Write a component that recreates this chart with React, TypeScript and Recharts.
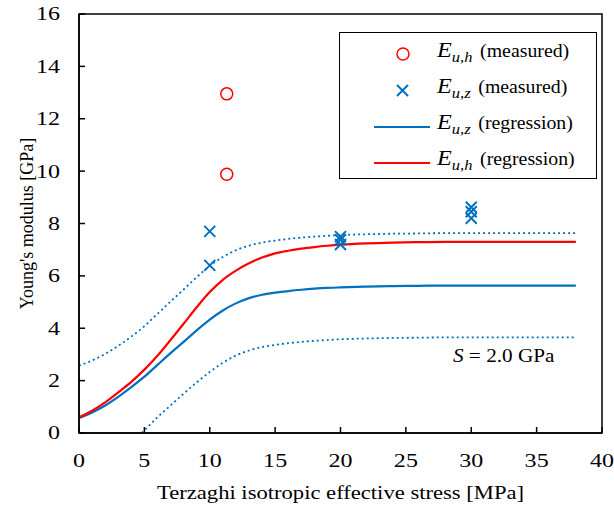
import {
  ComposedChart,
  Label,
  Line,
  ReferenceArea,
  ReferenceDot,
  Scatter,
  XAxis,
  YAxis
} from "recharts";

const stressX = [0, 1, 2, 3, 4, 5, 6, 7, 8, 9, 10, 11, 12, 13, 14, 15, 16, 17, 18, 19, 20, 22, 24, 26, 28, 30, 32, 34, 36, 38];
const euzRegression = [0.57, 0.78, 1.05, 1.38, 1.75, 2.15, 2.6, 3.05, 3.48, 3.92, 4.33, 4.68, 4.95, 5.15, 5.28, 5.36, 5.42, 5.47, 5.51, 5.54, 5.56, 5.59, 5.61, 5.62, 5.63, 5.63, 5.63, 5.63, 5.63, 5.63];
const euhRegression = [0.6, 0.85, 1.17, 1.55, 1.95, 2.42, 2.95, 3.55, 4.17, 4.8, 5.38, 5.85, 6.2, 6.48, 6.7, 6.86, 6.96, 7.04, 7.1, 7.15, 7.19, 7.24, 7.27, 7.29, 7.3, 7.3, 7.3, 7.3, 7.3, 7.3];
const upperBand = [2.57, 2.77, 3.02, 3.33, 3.68, 4.08, 4.55, 5.02, 5.48, 5.95, 6.38, 6.72, 6.98, 7.15, 7.27, 7.35, 7.41, 7.46, 7.5, 7.53, 7.56, 7.59, 7.61, 7.62, 7.63, 7.63, 7.63, 7.63, 7.63, 7.63];

const lowerX = [4.8, 5, 6, 7, 8, 9, 10, 11, 12, 13, 14, 15, 16, 17, 18, 19, 20, 22, 24, 26, 28, 30, 32, 34, 36, 38];
const lowerBand = [0, 0.1, 0.6, 1.05, 1.5, 1.93, 2.33, 2.68, 2.96, 3.15, 3.28, 3.36, 3.43, 3.48, 3.52, 3.55, 3.58, 3.61, 3.63, 3.64, 3.65, 3.65, 3.65, 3.65, 3.65, 3.65];

const euhMeasuredX = [11.3, 11.3];
const euhMeasured = [12.95, 9.88];
const euzMeasuredX = [10, 10, 20, 20, 20, 30, 30, 30];
const euzMeasured = [7.7, 6.4, 7.5, 7.38, 7.2, 8.62, 8.45, 8.2];

const xTicks = [0, 5, 10, 15, 20, 25, 30, 35, 40];
const yTicks = [0, 2, 4, 6, 8, 10, 12, 14, 16];

const BLUE = "#0070C0";
const RED = "#FF0000";
const FONT = "'Liberation Serif', 'Times New Roman', serif";
// the source figure is stretched sideways, so text is widened a bit
const TICK_SX = 1.3;

const regressionRows = stressX.map((x, i) => ({
  x,
  euz: euzRegression[i],
  euh: euhRegression[i],
  upper: upperBand[i]
}));
const lowerRows = lowerX.map((x, i) => ({ x, lower: lowerBand[i] }));
const euhRows = euhMeasuredX.map((x, i) => ({ x, y: euhMeasured[i] }));
const euzRows = euzMeasuredX.map((x, i) => ({ x, y: euzMeasured[i] }));

const Circle = (props: any) => (
  <circle cx={props.cx} cy={props.cy} r={6} fill="none" stroke={RED} strokeWidth={1.5} />
);

const Cross = (props: any) => {
  const { cx, cy } = props;
  const s = 5.5;
  return (
    <path d={`M${cx - s},${cy - s}L${cx + s},${cy + s}M${cx - s},${cy + s}L${cx + s},${cy - s}`} stroke={BLUE} strokeWidth={2} fill="none" />
  );
};

const XTick = (props: any) => (
  <g transform={`translate(${props.x},${props.y}) scale(${TICK_SX},1)`}>
    <text textAnchor="middle" dy="0.71em" fontFamily={FONT} fontSize={18.5} fill="#000">
      {props.payload.value}
    </text>
  </g>
);

const YTick = (props: any) => (
  <g transform={`translate(${props.x},${props.y}) scale(${TICK_SX},1)`}>
    <text textAnchor="end" dy="0.35em" fontFamily={FONT} fontSize={18.5} fill="#000">
      {props.payload.value}
    </text>
  </g>
);

const XTitle = (props: any) => {
  const { x, y, width, height } = props.viewBox;
  return (
    <g transform={`translate(${x + width / 2},${y + height - 9}) scale(1.19,1)`}>
      <text textAnchor="middle" fontFamily={FONT} fontSize={19} fill="#000">
        Terzaghi isotropic effective stress [MPa]
      </text>
    </g>
  );
};

const YTitle = (props: any) => {
  const { x, y, height } = props.viewBox;
  return (
    <g transform={`translate(${x + 27},${y + height / 2}) rotate(-90)`}>
      <text textAnchor="middle" dy="0.35em" fontFamily={FONT} fontSize={18} fill="#000">
        Young's modulus [GPa]
      </text>
    </g>
  );
};

const AnnotationLabel = (props: any) => {
  const { viewBox } = props;
  return (
    <g transform={`translate(${viewBox.x},${viewBox.y}) scale(1.18,1)`}>
      <text fontFamily={FONT} fontSize={18} fill="#000">
        <tspan fontStyle="italic">S</tspan>
        <tspan> = 2.0 GPa</tspan>
      </text>
    </g>
  );
};

function Symbol({ sub }: { sub: string }) {
  return (
    <span style={{ fontStyle: "italic", fontSize: 22 }}>
      E<sub style={{ fontSize: 15, verticalAlign: "-5px" }}>{sub}</sub>
    </span>
  );
}

function LegendBox() {
  const rows = [
    { kind: "circle", sub: "u,h", text: "(measured)" },
    { kind: "cross", sub: "u,z", text: "(measured)" },
    { kind: "blue", sub: "u,z", text: "(regression)" },
    { kind: "red", sub: "u,h", text: "(regression)" }
  ];
  return (
    <div
      style={{
        position: "absolute",
        left: 339,
        top: 32,
        width: 256,
        height: 145,
        border: "1.5px solid #000",
        background: "#fff",
        fontFamily: FONT,
        fontSize: 18,
        color: "#000"
      }}
    >
      {rows.map((row, i) => (
        <div key={i} style={{ position: "absolute", left: 0, top: 4 + i * 36, height: 36, width: "100%" }}>
          <svg width={60} height={36} style={{ position: "absolute", left: 32, top: 0 }}>
            {row.kind === "circle" && <circle cx={31} cy={17} r={6} fill="none" stroke={RED} strokeWidth={1.5} />}
            {row.kind === "cross" && (
              <path d="M25,12L36,23M25,23L36,12" stroke={BLUE} strokeWidth={2} />
            )}
            {row.kind === "blue" && <line x1={2} x2={58} y1={18} y2={18} stroke={BLUE} strokeWidth={2.2} />}
            {row.kind === "red" && <line x1={2} x2={58} y1={18} y2={18} stroke={RED} strokeWidth={2.2} />}
          </svg>
          <div
            style={{
              position: "absolute",
              left: 97,
              top: 0,
              whiteSpace: "nowrap",
              transform: "scaleX(1.1)",
              transformOrigin: "left center"
            }}
          >
            <Symbol sub={row.sub} />
            <span style={{ marginLeft: 7 }}>{row.text}</span>
          </div>
        </div>
      ))}
    </div>
  );
}

export default function App() {
  return (
    <div style={{ position: "absolute", left: 0, top: 0, width: 614, height: 508, background: "#fff" }}>
      <ComposedChart
        width={614}
        height={508}
        data={regressionRows}
        margin={{ top: 14, right: 12, left: 0, bottom: 0 }}
      >
        <XAxis
          type="number"
          dataKey="x"
          domain={[0, 40]}
          ticks={xTicks}
          allowDataOverflow
          height={75}
          tickSize={-6}
          tickMargin={27}
          tick={<XTick />}
          stroke="#000"
          strokeWidth={1.5}
        >
          <Label content={<XTitle />} />
        </XAxis>
        <YAxis
          type="number"
          domain={[0, 16]}
          ticks={yTicks}
          allowDataOverflow
          width={79}
          tickSize={-6}
          tickMargin={25}
          tick={<YTick />}
          stroke="#000"
          strokeWidth={1.5}
        >
          <Label content={<YTitle />} />
        </YAxis>
        <ReferenceArea x1={0} x2={40} y1={0} y2={16} fill="none" stroke="#000" strokeWidth={1.5} />
        <Line dataKey="upper" type="monotone" stroke={BLUE} strokeWidth={1.8} strokeDasharray="2 3" dot={false} isAnimationActive={false} />
        <Line data={lowerRows} dataKey="lower" type="monotone" stroke={BLUE} strokeWidth={1.8} strokeDasharray="2 3" dot={false} isAnimationActive={false} />
        <Line dataKey="euz" type="monotone" stroke={BLUE} strokeWidth={2.2} dot={false} isAnimationActive={false} />
        <Line dataKey="euh" type="monotone" stroke={RED} strokeWidth={2.2} dot={false} isAnimationActive={false} />
        <Scatter data={euhRows} dataKey="y" shape={Circle} isAnimationActive={false} />
        <Scatter data={euzRows} dataKey="y" shape={Cross} isAnimationActive={false} />
        <ReferenceDot x={28.6} y={2.7} r={0} fill="none" stroke="none" label={<AnnotationLabel />} />
      </ComposedChart>
      <LegendBox />
    </div>
  );
}
